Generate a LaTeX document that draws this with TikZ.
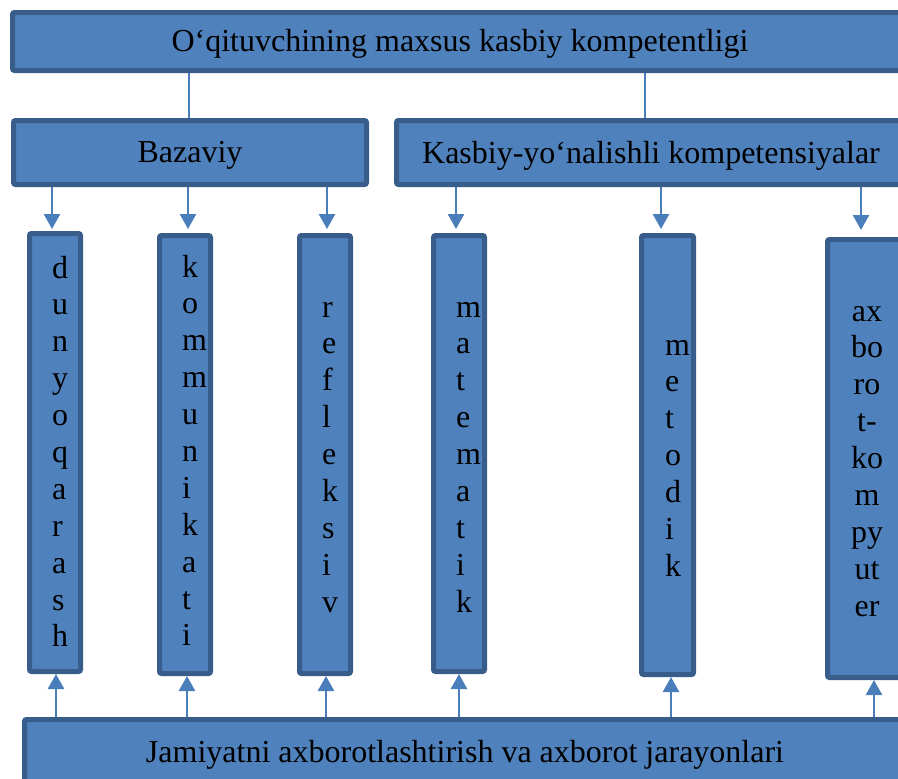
\documentclass[tikz,border=0pt]{standalone}
\usepackage{fontspec}
\setmainfont{Liberation Serif}
\usetikzlibrary{arrows.meta}
\definecolor{boxfill}{HTML}{4F81BD}
\definecolor{boxline}{HTML}{385D8A}
\definecolor{arrcol}{HTML}{4A7EBB}
\newcommand\lt[1]{\hbox{#1}}
\newcommand\ltc[1]{\hbox to 0pt{\hss#1\hss}}
\newcommand\stackset{\baselineskip=36.9pt\lineskiplimit=-100pt\lineskip=0pt}
\begin{document}
\begin{tikzpicture}[x=1pt,y=-1pt,
  box/.style={draw=boxline, fill=boxfill, line width=5pt, rounded corners=2pt, inner sep=0pt},
  txt/.style={inner sep=0pt, font=\fontsize{32}{37}\selectfont, text=black},
  arr/.style={draw=arrcol, line width=2.5pt, -{Triangle[length=15pt,width=16pt]}},
  ln/.style={draw=arrcol, line width=2pt}]
\useasboundingbox (0,0) rectangle (898,779);
\clip (0,0) rectangle (898,779);

% top level
\node[box, minimum width=895pt, minimum height=58pt] (top) at (460,41.5) {};
\node[txt, anchor=base] (toptxt) at (460,52) {O‘qituvchining maxsus kasbiy kompetentligi};

% second level
\node[box, minimum width=353pt, minimum height=64pt] (baz) at (190,152.5) {};
\node[txt, anchor=base] (baztxt) at (190,162) {Bazaviy};
\node[box, minimum width=511pt, minimum height=64pt] (kas) at (652,152.5) {};
\node[txt, anchor=base] (kastxt) at (651,163) {Kasbiy-yo‘nalishli kompetensiyalar};

% columns
\node[box, minimum width=51pt, minimum height=438pt] (c1) at (55,452.5) {};
\node[box, minimum width=51pt, minimum height=438pt] (c2) at (185,454.5) {};
\node[box, minimum width=51pt, minimum height=438pt] (c3) at (325,454.5) {};
\node[box, minimum width=51pt, minimum height=436pt] (c4) at (459,453.5) {};
\node[box, minimum width=52pt, minimum height=439pt] (c5) at (667.5,455) {};
\node[box, minimum width=80pt, minimum height=438pt] (c6) at (867.5,458.5) {};

\node[txt, anchor=base west] (t1) at (52,278) {\vtop{\stackset\lt{d}\lt{u}\lt{n}\lt{y}\lt{o}\lt{q}\lt{a}\lt{r}\lt{a}\lt{s}\lt{h}}};
\node[txt, anchor=base west] (t2) at (182,277) {\vtop{\stackset\lt{k}\lt{o}\lt{m}\lt{m}\lt{u}\lt{n}\lt{i}\lt{k}\lt{a}\lt{t}\lt{i}}};
\node[txt, anchor=base west] (t3) at (322,317) {\vtop{\stackset\lt{r}\lt{e}\lt{f}\lt{l}\lt{e}\lt{k}\lt{s}\lt{i}\lt{v}}};
\node[txt, anchor=base west] (t4) at (456,317) {\vtop{\stackset\lt{m}\lt{a}\lt{t}\lt{e}\lt{m}\lt{a}\lt{t}\lt{i}\lt{k}}};
\node[txt, anchor=base west] (t5) at (665,355) {\vtop{\stackset\lt{m}\lt{e}\lt{t}\lt{o}\lt{d}\lt{i}\lt{k}}};
\node[txt, anchor=base] (t6) at (867,321) {\vtop{\stackset\ltc{ax}\ltc{bo}\ltc{ro}\ltc{t-}\ltc{ko}\ltc{m}\ltc{py}\ltc{ut}\ltc{er}}};

% bottom
\node[box, minimum width=883pt, minimum height=68pt] (bot) at (466,753.5) {};
\node[txt, anchor=base] (bottxt) at (465,762) {Jamiyatni axborotlashtirish va axborot jarayonlari};

% plain connectors
\draw[ln] ([xshift=-1pt]baz.north |- top.south) -- ([xshift=-1pt]baz.north);
\draw[ln] ([xshift=-7pt]kas.north |- top.south) -- ([xshift=-7pt]kas.north);

% downward arrows
\draw[arr, shorten >=2pt] ([xshift=-3pt]c1.north |- baz.south) -- ([xshift=-3pt]c1.north);
\draw[arr, shorten >=4pt] ([xshift=3pt]c2.north |- baz.south) -- ([xshift=3pt]c2.north);
\draw[arr, shorten >=4pt] ([xshift=2pt]c3.north |- baz.south) -- ([xshift=2pt]c3.north);
\draw[arr, shorten >=4pt] ([xshift=-3pt]c4.north |- kas.south) -- ([xshift=-3pt]c4.north);
\draw[arr, shorten >=4pt] ([xshift=-6.5pt]c5.north |- kas.south) -- ([xshift=-6.5pt]c5.north);
\draw[arr, shorten >=7pt] ([xshift=-6.5pt]c6.north |- kas.south) -- ([xshift=-6.5pt]c6.north);

% upward arrows
\draw[arr] ([xshift=1pt]c1.south |- bot.north) -- ([xshift=1pt]c1.south);
\draw[arr] ([xshift=2pt]c2.south |- bot.north) -- ([xshift=2pt]c2.south);
\draw[arr] ([xshift=1pt]c3.south |- bot.north) -- ([xshift=1pt]c3.south);
\draw[arr] (c4.south |- bot.north) -- (c4.south);
\draw[arr] ([xshift=3.5pt]c5.south |- bot.north) -- ([xshift=3.5pt]c5.south);
\draw[arr] ([xshift=6.5pt]c6.south |- bot.north) -- ([xshift=6.5pt]c6.south);
\end{tikzpicture}
\end{document}
